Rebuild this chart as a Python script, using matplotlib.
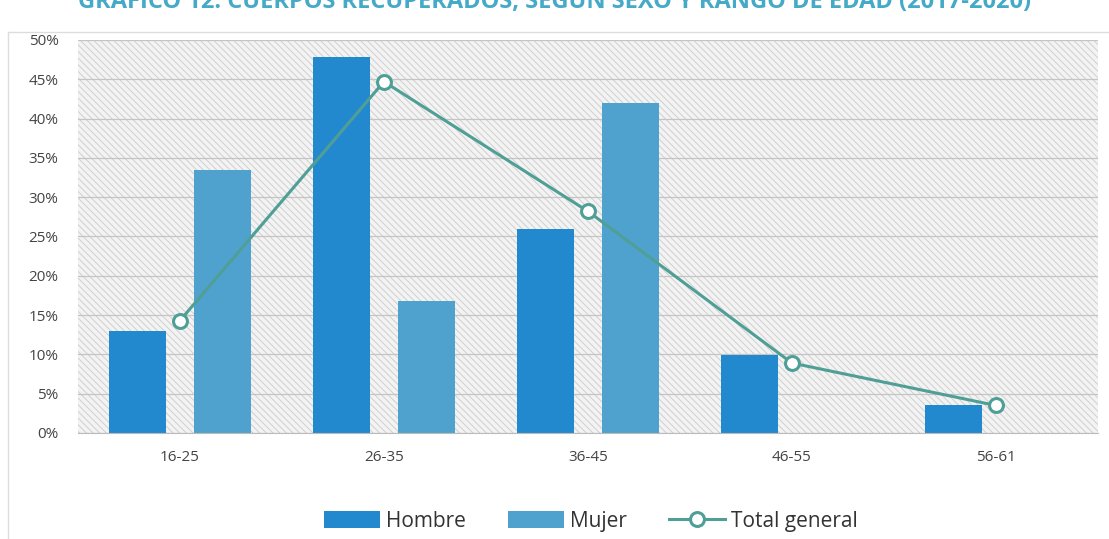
import numpy as np
import matplotlib
matplotlib.use('Agg')
import matplotlib.pyplot as plt
from matplotlib.patches import Rectangle
from matplotlib.ticker import PercentFormatter

# data
categories = ['16-25', '26-35', '36-45', '46-55', '56-61']
hombre = [13.0, 47.8, 26.0, 9.9, 3.6]
mujer = [33.4, 16.8, 42.0, 0.0, 0.0]
total = [14.3, 44.7, 28.2, 8.9, 3.5]

plt.rcParams['font.family'] = ['Open Sans', 'DejaVu Sans']
plt.rcParams['hatch.linewidth'] = 0.7

fig = plt.figure(figsize=[11.09, 5.39], dpi=100)
ax = fig.add_axes([0.0703, 0.1967, 0.9197, 0.7291])

x = np.arange(len(categories))
w = 0.28
ax.add_patch(Rectangle((0, 0), 1, 1, transform=ax.transAxes, facecolor='#f3f3f3',
                       edgecolor='#cfcfcf', hatch='\\\\\\\\\\', lw=0, zorder=0))
b1 = ax.bar(x - 0.21, hombre, w, color='#2389cf', label='Hombre', zorder=2)
b2 = ax.bar(x + 0.21, mujer, w, color='#4fa2cd', label='Mujer', zorder=2)
l1, = ax.plot(x, total, color='#4f9f96', lw=2.2, marker='o', ms=10, mfc='white',
              mec='#4f9f96', mew=2.2, label='Total general', zorder=3)

ax.set_xlim(-0.5, 4.5)
ax.set_ylim(0, 50)
ax.set_yticks(np.arange(0, 51, 5))
ax.yaxis.set_major_formatter(PercentFormatter(decimals=0))
ax.set_xticks(x, categories)
ax.grid(axis='y', color='#c4c4c4', lw=0.9, zorder=1)
ax.set_axisbelow(True)
for s in ['top', 'right', 'left']:
    ax.spines[s].set_visible(False)
ax.spines['bottom'].set_color('#bbbbbb')
ax.tick_params(length=0, labelsize=11, colors='#444444', pad=12)
ax.tick_params(axis='y', pad=14)

fig.text(0.5, 0.997, 'GRÁFICO 12. CUERPOS RECUPERADOS, SEGÚN SEXO Y RANGO DE EDAD (2017-2020)',
         ha='center', va='center', fontsize=17, fontweight='bold', color='#45a9c8')
fig.add_artist(plt.Line2D([0.007, 0.007], [0, 0.94], color='#dddddd', lw=1))
fig.add_artist(plt.Line2D([0.007, 1], [0.94, 0.94], color='#dddddd', lw=1))

ax.legend([b1, b2, l1], ['Hombre', 'Mujer', 'Total general'], loc='center',
          bbox_to_anchor=(0.503, -0.225), ncol=3, frameon=False,
          fontsize=15, handlelength=2.7, handleheight=0.9, columnspacing=2.0,
          handletextpad=0.3, labelcolor='#333333')

plt.savefig('out.png', dpi=100)
